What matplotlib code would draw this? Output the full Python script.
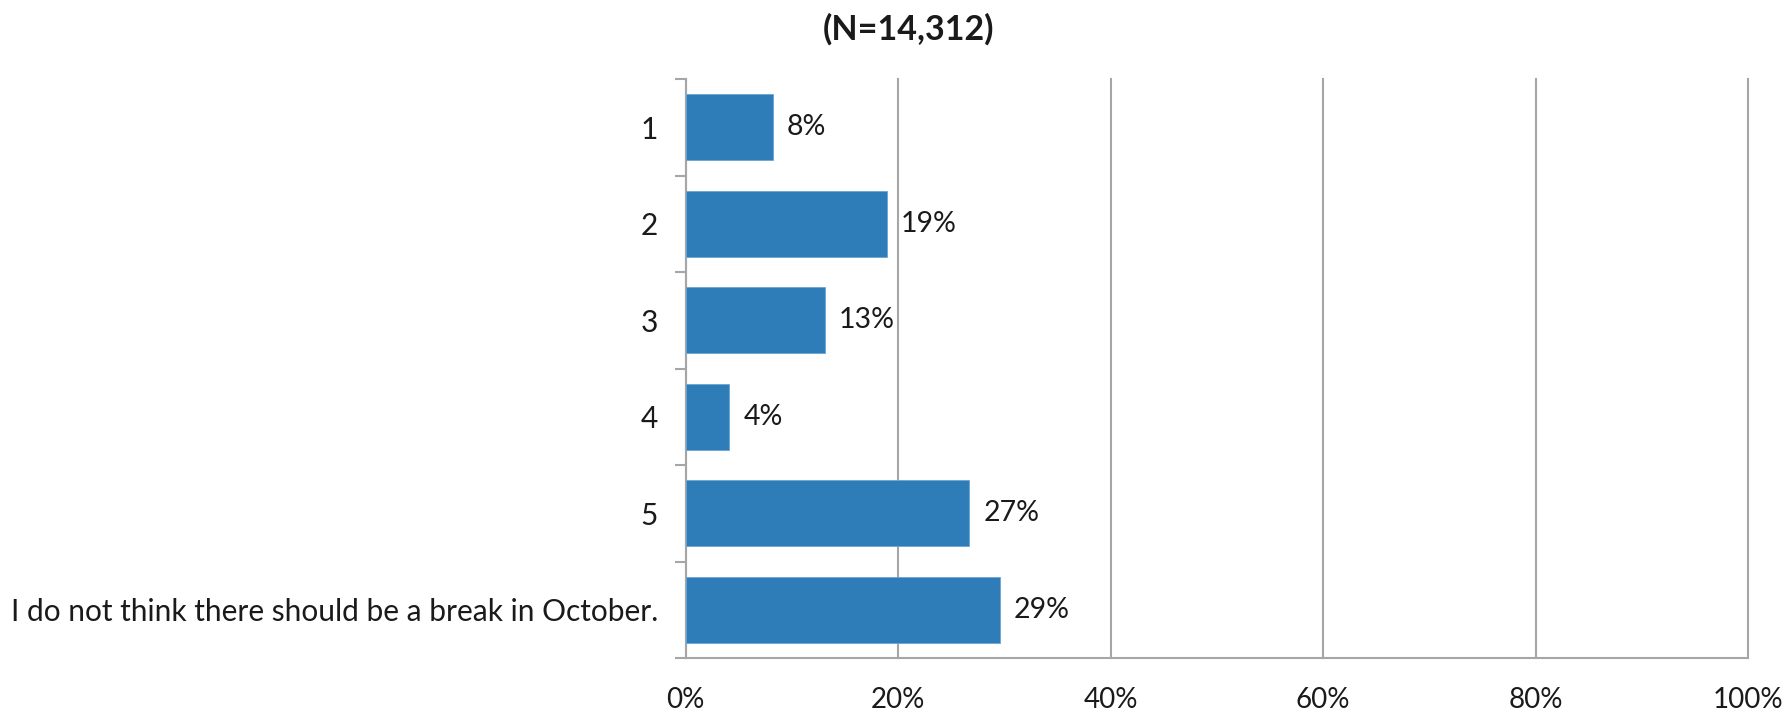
import matplotlib
matplotlib.use("Agg")
import matplotlib.pyplot as plt
import numpy as np

categories = ["1", "2", "3", "4", "5", "I do not think there should be a break in October."]
values = [8.2, 18.9, 13.1, 4.1, 26.7, 29.6]
value_labels = ["8%", "19%", "13%", "4%", "27%", "29%"]
x_ticks = [0, 20, 40, 60, 80, 100]
x_tick_labels = ["0%", "20%", "40%", "60%", "80%", "100%"]
title = "(N=14,312)"

plt.rcParams['font.family'] = ['Lato', 'DejaVu Sans']

fig = plt.figure(figsize=(17.91, 7.12), dpi=100)
ax = fig.add_axes([0.3829, 0.0758, 0.5931, 0.8132])

bar_color = '#2e7db8'
grid_color = '#a6a6a6'
text_color = '#1a1a1a'

y = np.arange(len(categories))
ax.barh(y, values, height=0.68, color=bar_color, edgecolor='#6aa6d6', linewidth=0.6, zorder=3)

for yi, v, lab in zip(y, values, value_labels):
    ax.annotate(lab, xy=(v, yi), xytext=(10, 0), textcoords='offset points',
                ha='left', va='center', fontsize=20.5, color=text_color, zorder=4)

ax.set_xlim(0, 100)
ax.set_ylim(len(categories) - 0.5, -0.5)

ax.set_xticks(x_ticks)
ax.set_xticklabels(x_tick_labels, fontsize=20, color=text_color)
ax.tick_params(axis='x', length=0, pad=21)

ax.set_yticks(y)
ax.set_yticklabels(categories, fontsize=21.5, color=text_color)
ax.tick_params(axis='y', which='major', length=0, pad=20)
ax.set_yticks(np.arange(len(categories) + 1) - 0.5, minor=True)
ax.tick_params(axis='y', which='minor', length=8, width=1.5, color=grid_color, direction='out')

ax.grid(axis='x', color=grid_color, linewidth=1.5, zorder=0)
ax.set_axisbelow(True)
for gl in ax.get_xgridlines():
    gl.set_clip_on(False)

for s in ['top', 'right']:
    ax.spines[s].set_visible(False)
for s in ['left', 'bottom']:
    ax.spines[s].set_color(grid_color)
    ax.spines[s].set_linewidth(1.5)

fig.text(0.507, 0.959, title, ha='center', va='center', fontsize=24.5, fontweight='bold', color=text_color)

fig.savefig('out.png', dpi=100, facecolor='white')
